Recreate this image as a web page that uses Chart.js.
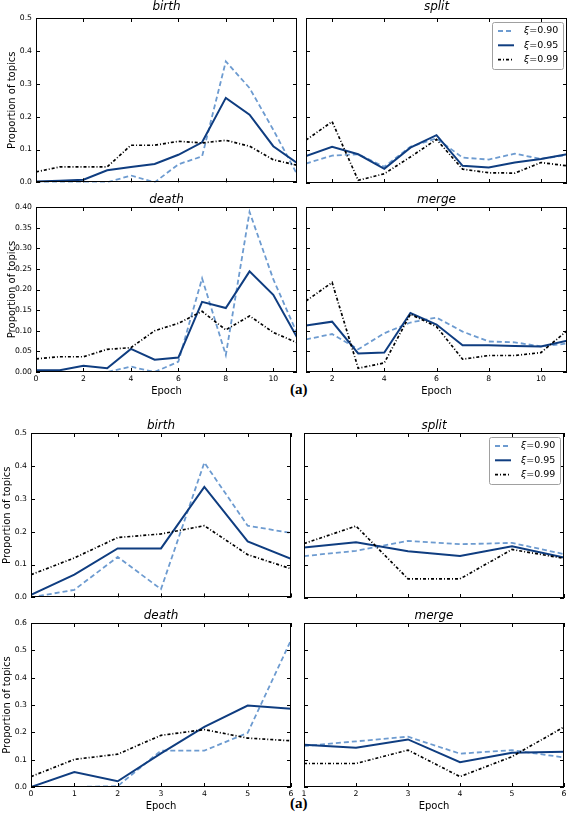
<!DOCTYPE html>
<html>
<head>
<meta charset="utf-8">
<script src="https://cdn.jsdelivr.net/npm/chart.js@4.4.1/dist/chart.umd.min.js"></script>
<style>
  body { margin: 0; background: #fff; width: 568px; height: 818px; position: relative; overflow: hidden; }
  canvas { position: absolute; }
  .tag { position: absolute; font: bold 15px "Liberation Serif"; line-height: 15px; color: #000; }
</style>
</head>
<body>
<div class="tag" style="left:290px;top:382px">(a)</div>
<div class="tag" style="left:290px;top:796px">(a)</div>
<script>
// epochs and ticks
const epochsA = [0, 1, 2, 3, 4, 5, 6, 7, 8, 9, 10, 11];
const epochsARight = [1, 2, 3, 4, 5, 6, 7, 8, 9, 10, 11];
const epochsB = [0, 1, 2, 3, 4, 5, 6];
const epochsBRight = [1, 2, 3, 4, 5, 6];
const xTicksA = [0, 2, 4, 6, 8, 10];
const xTicksARight = [2, 4, 6, 8, 10];
const xTicksB = [0, 1, 2, 3, 4, 5, 6];
const xTicksBRight = [1, 2, 3, 4, 5, 6];
const yTicksHalf = [0, 0.1, 0.2, 0.3, 0.4, 0.5];
const yTicksDeathA = [0, 0.05, 0.10, 0.15, 0.20, 0.25, 0.30, 0.35, 0.40];
const yTicksDeathB = [0, 0.1, 0.2, 0.3, 0.4, 0.5, 0.6];
const seriesLabels = ['ξ=0.90', 'ξ=0.95', 'ξ=0.99'];

// group (a), top
const birthA090 = [0, 0, 0, 0, 0.021, 0, 0.055, 0.079, 0.368, 0.287, 0.16, 0.025];
const birthA095 = [0.003, 0.005, 0.008, 0.037, 0.047, 0.056, 0.084, 0.122, 0.257, 0.206, 0.11, 0.059];
const birthA099 = [0.032, 0.047, 0.047, 0.047, 0.113, 0.113, 0.125, 0.12, 0.128, 0.11, 0.069, 0.052];
const splitA090 = [0.059, 0.083, 0.087, 0.049, 0.11, 0.135, 0.077, 0.071, 0.089, 0.073, 0.085];
const splitA095 = [0.082, 0.11, 0.087, 0.043, 0.107, 0.145, 0.052, 0.047, 0.062, 0.073, 0.087];
const splitA099 = [0.13, 0.186, 0.008, 0.028, 0.079, 0.132, 0.042, 0.031, 0.03, 0.062, 0.052];
const deathA090 = [0, 0, 0, 0, 0.013, 0, 0.025, 0.227, 0.041, 0.388, 0.225, 0.094];
const deathA095 = [0.004, 0.004, 0.015, 0.009, 0.056, 0.03, 0.035, 0.17, 0.155, 0.244, 0.187, 0.084];
const deathA099 = [0.032, 0.037, 0.037, 0.055, 0.059, 0.1, 0.118, 0.147, 0.102, 0.136, 0.096, 0.071];
const mergeA090 = [0.079, 0.092, 0.055, 0.094, 0.12, 0.132, 0.098, 0.074, 0.072, 0.062, 0.069];
const mergeA095 = [0.113, 0.122, 0.045, 0.047, 0.143, 0.115, 0.065, 0.065, 0.063, 0.062, 0.076];
const mergeA099 = [0.172, 0.217, 0.009, 0.022, 0.14, 0.11, 0.031, 0.04, 0.04, 0.047, 0.1];

// group (a), bottom
const birthB090 = [0, 0.023, 0.123, 0.025, 0.41, 0.218, 0.196];
const birthB095 = [0.008, 0.069, 0.149, 0.149, 0.336, 0.17, 0.117];
const birthB099 = [0.069, 0.12, 0.182, 0.193, 0.218, 0.13, 0.087];
const splitB090 = [0.127, 0.143, 0.173, 0.163, 0.167, 0.133];
const splitB095 = [0.153, 0.169, 0.142, 0.127, 0.157, 0.123];
const splitB099 = [0.165, 0.218, 0.058, 0.058, 0.147, 0.12];
const deathB090 = [0, 0, 0.003, 0.133, 0.133, 0.198, 0.537];
const deathB095 = [0, 0.055, 0.021, 0.123, 0.22, 0.298, 0.286];
const deathB099 = [0.038, 0.101, 0.12, 0.189, 0.21, 0.179, 0.169];
const mergeB090 = [0.15, 0.167, 0.184, 0.122, 0.135, 0.108];
const mergeB095 = [0.155, 0.144, 0.174, 0.091, 0.125, 0.129];
const mergeB099 = [0.086, 0.086, 0.135, 0.038, 0.111, 0.22];

Chart.defaults.color = '#000';
Chart.defaults.font.family = 'DejaVu Sans';

const seriesStyle = [
    { color: '#6d9bd0', dash: [5, 3], width: 1.8, order: 2 },
    { color: '#0f3d80', dash: [], width: 2, order: 1 },
    { color: '#000000', dash: [3, 2, 1, 2], width: 1.7, order: 0 }
];

// matplotlib-like frame with inward ticks on all four sides
const framePlugin = {
    id: 'frame',
    afterDatasetsDraw(chart) {
        const { ctx, chartArea: a, scales: { x, y } } = chart;
        ctx.save();
        ctx.strokeStyle = '#000';
        ctx.lineWidth = 1;
        ctx.beginPath();
        x.ticks.forEach(t => {
            const px = Math.round(x.getPixelForValue(t.value)) + 0.5;
            ctx.moveTo(px, a.bottom); ctx.lineTo(px, a.bottom - 4);
            ctx.moveTo(px, a.top); ctx.lineTo(px, a.top + 4);
        });
        y.ticks.forEach(t => {
            const py = Math.round(y.getPixelForValue(t.value)) + 0.5;
            ctx.moveTo(a.left, py); ctx.lineTo(a.left + 4, py);
            ctx.moveTo(a.right, py); ctx.lineTo(a.right - 4, py);
        });
        ctx.stroke();
        ctx.strokeRect(Math.round(a.left) + 0.5, Math.round(a.top) + 0.5,
            Math.round(a.right - a.left) - 1, Math.round(a.bottom - a.top) - 1);
        ctx.restore();
    }
};

const legendPlugin = {
    id: 'mplLegend',
    defaults: { display: false },
    afterDraw(chart, args, opts) {
        if (!opts.display) return;
        const { ctx, chartArea: a } = chart;
        const bx = Math.round(a.right - 75), by = Math.round(a.top + 4), bw = 71, bh = 47;
        ctx.save();
        ctx.fillStyle = '#fff';
        ctx.strokeStyle = '#a0a0a0';
        ctx.lineWidth = 1;
        ctx.beginPath();
        ctx.roundRect(bx + 0.5, by + 0.5, bw, bh, 2);
        ctx.fill();
        ctx.stroke();
        chart.data.datasets.forEach((ds, i) => {
            const yy = by + 9 + i * 14.3;
            ctx.strokeStyle = ds.borderColor;
            ctx.lineWidth = ds.borderWidth;
            ctx.setLineDash(ds.borderDash);
            ctx.beginPath();
            ctx.moveTo(bx + 6, yy);
            ctx.lineTo(bx + 22, yy);
            ctx.stroke();
            ctx.setLineDash([]);
            ctx.fillStyle = '#000';
            ctx.textBaseline = 'middle';
            let tx = bx + 32;
            ctx.font = 'italic 9.5px "DejaVu Sans"';
            ctx.fillText(ds.label[0], tx, yy);
            tx += ctx.measureText(ds.label[0]).width;
            ctx.font = '9.5px "DejaVu Sans"';
            ctx.fillText(ds.label.slice(1), tx, yy);
        });
        ctx.restore();
    }
};

function panel(p) {
    const yW = p.yTitle ? p.l : 10;
    const padR = 8;
    const titleH = 15 + p.titlePad;
    const xH = p.xLabels ? 25 : 8;
    const cv = document.createElement('canvas');
    cv.width = yW + (p.r - p.l) + padR;
    cv.height = titleH + (p.b - p.t) + xH;
    cv.style.left = (p.l - yW) + 'px';
    cv.style.top = (p.t - titleH) + 'px';
    document.body.appendChild(cv);

    new Chart(cv, {
        type: 'line',
        data: {
            datasets: p.series.map((vals, i) => ({
                label: seriesLabels[i],
                data: vals.map((v, k) => ({ x: p.epochs[k], y: v })),
                borderColor: seriesStyle[i].color,
                borderDash: seriesStyle[i].dash,
                borderWidth: seriesStyle[i].width,
                order: seriesStyle[i].order,
                pointRadius: 0,
                tension: 0,
                fill: false
            }))
        },
        options: {
            responsive: false,
            animation: false,
            devicePixelRatio: 1,
            layout: { padding: { left: 0, right: padR, top: 0, bottom: 0 } },
            plugins: {
                legend: { display: false },
                tooltip: { enabled: false },
                title: {
                    display: true,
                    fullSize: false,
                    text: p.title,
                    font: { size: 12, style: 'italic', weight: 'normal', lineHeight: 1.25 },
                    padding: { top: 0, bottom: p.titlePad }
                },
                mplLegend: { display: !!p.legend }
            },
            scales: {
                x: {
                    type: 'linear',
                    min: p.xMin,
                    max: p.xMax,
                    afterBuildTicks: s => { s.ticks = p.xTicks.map(v => ({ value: v })); },
                    afterFit: s => { s.height = xH; },
                    grid: { display: false, drawTicks: false },
                    border: { display: false },
                    ticks: {
                        display: p.xLabels,
                        autoSkip: false,
                        maxRotation: 0,
                        padding: 2,
                        font: { size: 7.7 },
                        callback: v => String(v)
                    },
                    title: {
                        display: p.xLabels,
                        text: 'Epoch',
                        font: { size: 10, lineHeight: 1.2 },
                        padding: { top: 0, bottom: 0 }
                    }
                },
                y: {
                    min: 0,
                    max: p.yTicks[p.yTicks.length - 1],
                    afterBuildTicks: s => { s.ticks = p.yTicks.map(v => ({ value: v })); },
                    afterFit: s => { s.width = yW; },
                    grid: { display: false, drawTicks: false },
                    border: { display: false },
                    ticks: {
                        display: p.yTitle,
                        padding: 4,
                        font: { size: 7.7 },
                        callback: v => v.toFixed(p.yDigits)
                    },
                    title: {
                        display: p.yTitle,
                        text: 'Proportion of topics',
                        font: { size: 10, lineHeight: 1.2 },
                        padding: { top: p.yTitlePad, bottom: 0 }
                    }
                }
            }
        },
        plugins: [framePlugin, legendPlugin]
    });
}

// group 1
panel({ title: 'birth', l: 36, t: 18, r: 297, b: 183, titlePad: 4, xLabels: false, yTitle: true, yTitlePad: 6,
    epochs: epochsA, xMin: 0, xMax: 11, xTicks: xTicksA, yTicks: yTicksHalf, yDigits: 1,
    series: [birthA090, birthA095, birthA099] });
panel({ title: 'split', l: 306, t: 18, r: 567, b: 183, titlePad: 4, xLabels: false, yTitle: false, legend: true,
    epochs: epochsARight, xMin: 1, xMax: 11, xTicks: xTicksARight, yTicks: yTicksHalf, yDigits: 1,
    series: [splitA090, splitA095, splitA099] });
panel({ title: 'death', l: 36, t: 207, r: 297, b: 372, titlePad: 0, xLabels: true, yTitle: true, yTitlePad: 6,
    epochs: epochsA, xMin: 0, xMax: 11, xTicks: xTicksA, yTicks: yTicksDeathA, yDigits: 2,
    series: [deathA090, deathA095, deathA099] });
panel({ title: 'merge', l: 306, t: 207, r: 567, b: 372, titlePad: 0, xLabels: true, yTitle: false,
    epochs: epochsARight, xMin: 1, xMax: 11, xTicks: xTicksARight, yTicks: yTicksDeathA, yDigits: 2,
    series: [mergeA090, mergeA095, mergeA099] });

// group 2
panel({ title: 'birth', l: 31, t: 433, r: 291, b: 598, titlePad: 0, xLabels: false, yTitle: true, yTitlePad: 1,
    epochs: epochsB, xMin: 0, xMax: 6, xTicks: xTicksB, yTicks: yTicksHalf, yDigits: 1,
    series: [birthB090, birthB095, birthB099] });
panel({ title: 'split', l: 304, t: 433, r: 564, b: 598, titlePad: 0, xLabels: false, yTitle: false, legend: true,
    epochs: epochsBRight, xMin: 1, xMax: 6, xTicks: xTicksBRight, yTicks: yTicksHalf, yDigits: 1,
    series: [splitB090, splitB095, splitB099] });
panel({ title: 'death', l: 31, t: 623, r: 291, b: 787, titlePad: 0, xLabels: true, yTitle: true, yTitlePad: 1,
    epochs: epochsB, xMin: 0, xMax: 6, xTicks: xTicksB, yTicks: yTicksDeathB, yDigits: 1,
    series: [deathB090, deathB095, deathB099] });
panel({ title: 'merge', l: 304, t: 623, r: 564, b: 787, titlePad: 0, xLabels: true, yTitle: false,
    epochs: epochsBRight, xMin: 1, xMax: 6, xTicks: xTicksBRight, yTicks: yTicksDeathB, yDigits: 1,
    series: [mergeB090, mergeB095, mergeB099] });
</script>
</body>
</html>
